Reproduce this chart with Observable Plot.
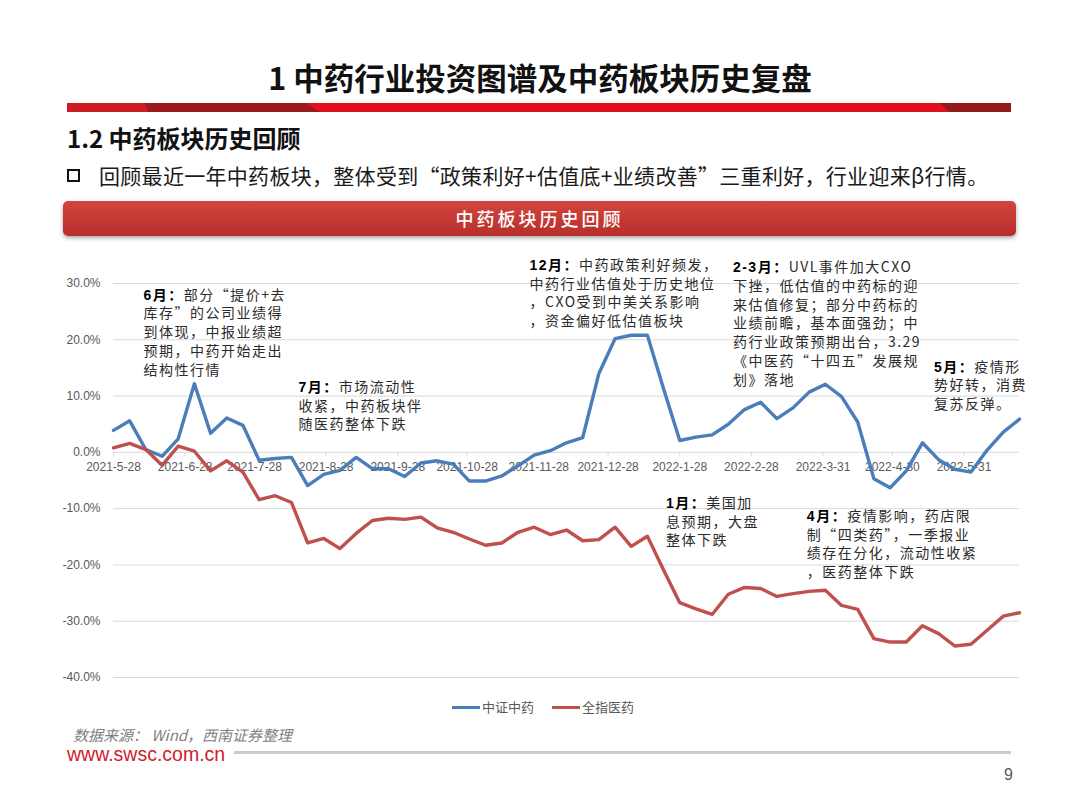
<!DOCTYPE html>
<html><head><meta charset="utf-8">
<script src="https://cdn.jsdelivr.net/npm/d3@7"></script>
<script src="https://cdn.jsdelivr.net/npm/@observablehq/plot@0.6"></script>
<style>
html,body{margin:0;padding:0;background:#fff}
body{width:1080px;height:810px;position:relative;overflow:hidden;font-family:"Noto Sans CJK SC","Noto Sans",sans-serif}
.abs{position:absolute;white-space:nowrap}
</style></head><body>
<div class="abs" style="left:0;width:1080px;top:57px;text-align:center;font-size:30.5px;font-weight:700;color:#111;line-height:40px">1 中药行业投资图谱及中药板块历史复盘</div>
<svg class="abs" style="left:0;top:103px" width="1080" height="10">
  <rect x="67" y="0" width="944" height="9" fill="#e2101c"/>
  <rect x="67" y="0" width="80" height="9" fill="#cf1b24"/>
  <polygon points="145,0 306,0 320,9 148,9" fill="#9c1a1c"/>
  <polygon points="940,0 1011,0 1011,9 949,9" fill="#931a1a"/>
</svg>
<div class="abs" style="left:67px;top:122px;font-size:24px;font-weight:700;color:#111;line-height:32px">1.2 中药板块历史回顾</div>
<div class="abs" style="left:67px;top:162px;line-height:26px;font-size:21px;letter-spacing:0.3px;color:#1a1a1a;display:flex;align-items:center">
  <span style="display:inline-block;width:9px;height:9px;border:2.5px solid #111;margin-right:19px"></span>
  <span>回顾最近一年中药板块，整体受到“政策利好+估值底+业绩改善”三重利好，行业迎来β行情。</span>
</div>
<div class="abs" style="left:63px;top:201px;width:953px;height:35px;border-radius:5px;background:linear-gradient(#d3453f,#b72e2b);box-shadow:0 2px 4px rgba(0,0,0,0.35);color:#fff;text-align:center;line-height:35px;font-size:18px;letter-spacing:3px;font-weight:500">中药板块历史回顾</div>
<div id="chart" class="abs" style="left:0;top:270px"></div>
<div class="abs" style="top:698px;left:452px;font-size:13px;color:#595959;display:flex;align-items:center;line-height:18px">
  <span style="display:inline-block;width:28px;height:3px;background:#4a7ebb"></span><span style="margin-left:2px">中证中药</span>
  <span style="display:inline-block;width:28px;height:3px;background:#c0504d;margin-left:18px"></span><span style="margin-left:2px">全指医药</span>
</div>
<div class="abs" style="left:73px;top:726px;font-size:15px;font-style:italic;color:#7f7f7f;line-height:18px">数据来源： Wind，西南证券整理</div>
<div class="abs" style="left:67px;top:744px;font-size:19.5px;color:#d0202e;line-height:20px;font-family:'Liberation Sans',Arial,sans-serif">www.swsc.com.cn</div>
<div class="abs" style="left:234px;top:751px;width:777px;height:3px;background:#cbcbcb"></div>
<div class="abs" style="left:990px;width:23px;text-align:right;top:764px;font-size:16px;color:#595959;line-height:22px;font-family:'Liberation Sans',Arial,sans-serif">9</div>
<script>
// ---- data ----
const dates = ["2021-05-28","2021-06-04","2021-06-11","2021-06-18","2021-06-25","2021-07-02","2021-07-09","2021-07-16","2021-07-23","2021-07-30",
"2021-08-06","2021-08-13","2021-08-20","2021-08-27","2021-09-03","2021-09-10","2021-09-17","2021-09-24","2021-10-01","2021-10-08",
"2021-10-15","2021-10-22","2021-10-29","2021-11-05","2021-11-12","2021-11-19","2021-11-26","2021-12-03","2021-12-10","2021-12-17",
"2021-12-24","2021-12-31","2022-01-07","2022-01-14","2022-01-21","2022-01-28","2022-02-04","2022-02-11","2022-02-18","2022-02-25",
"2022-03-04","2022-03-11","2022-03-18","2022-03-25","2022-04-01","2022-04-08","2022-04-15","2022-04-22","2022-04-29","2022-05-06",
"2022-05-13","2022-05-20","2022-05-27","2022-06-03","2022-06-10","2022-06-17","2022-06-24"];
const zzzy = [3.9,5.6,0.5,-0.7,2.4,12.2,3.4,6.1,4.8,-1.4,
-1.1,-0.9,-5.9,-3.9,-3.2,-0.9,-2.9,-2.9,-4.3,-1.9,
-1.5,-2.1,-5.1,-5.1,-4.2,-2.4,-0.5,0.3,1.7,2.6,
14.0,20.2,20.8,20.8,11.3,2.1,2.7,3.1,5.0,7.6,
8.9,6.0,7.9,10.7,12.1,9.9,5.4,-4.7,-6.3,-3.3,
1.7,-1.3,-3.0,-3.5,0.4,3.6,5.9];
const qzyy = [0.8,1.6,0.5,-2.3,1.1,0.2,-3.3,-1.5,-3.5,-8.4,
-7.7,-8.9,-16.1,-15.3,-17.1,-14.4,-12.1,-11.7,-11.9,-11.5,
-13.4,-14.2,-15.4,-16.5,-16.1,-14.2,-13.3,-14.6,-13.8,-15.7,
-15.5,-13.3,-16.7,-14.9,-20.9,-26.7,-27.8,-28.8,-25.2,-24.0,
-24.2,-25.6,-25.1,-24.7,-24.5,-27.2,-27.9,-33.1,-33.7,-33.7,
-30.8,-32.2,-34.4,-34.1,-31.6,-29.1,-28.5];
const seriesNames = ["中证中药","全指医药"];
const seriesColors = ["#4a7ebb","#c0504d"];
const xTickDates = ["2021-05-28","2021-06-28","2021-07-28","2021-08-28","2021-09-28","2021-10-28","2021-11-28","2021-12-28","2022-01-28","2022-02-28","2022-03-31","2022-04-30","2022-05-31"];
const xTickLabels = ["2021-5-28","2021-6-28","2021-7-28","2021-8-28","2021-9-28","2021-10-28","2021-11-28","2021-12-28","2022-1-28","2022-2-28","2022-3-31","2022-4-30","2022-5-31"];
const yTicks = [30,20,10,0,-10,-20,-30,-40];
const annoHeads = ["6月：","7月：","12月：","2-3月：","5月：","1月：","4月："];
const annoTexts = [
  "部分“提价+去\n库存”的公司业绩得\n到体现，中报业绩超\n预期，中药开始走出\n结构性行情",
  "市场流动性\n收紧，中药板块伴\n随医药整体下跌",
  "中药政策利好频发，\n中药行业估值处于历史地位\n，CXO受到中美关系影响\n，资金偏好低估值板块",
  "UVL事件加大CXO\n下挫，低估值的中药标的迎\n来估值修复；部分中药标的\n业绩前瞻，基本面强劲；中\n药行业政策预期出台，3.29\n《中医药“十四五”发展规\n划》落地",
  "疫情形\n势好转，消费\n复苏反弹。",
  "美国加\n息预期，大盘\n整体下跌",
  "疫情影响，药店限\n制“四类药”，一季报业\n绩存在分化，流动性收紧\n，医药整体下跌"
];
const annoDates = ["2021-06-10","2021-08-16","2021-11-24","2022-02-20","2022-05-18","2022-01-22","2022-03-24"];
const annoValues = [29.5,13.1,34.8,34.4,16.7,-7.5,-9.8];

// ---- build ----
const parse = d3.utcParse("%Y-%m-%d");
const rows = [];
dates.forEach((d,i)=>{
  rows.push({date:parse(d), value:zzzy[i], s:seriesNames[0]});
  rows.push({date:parse(d), value:qzyy[i], s:seriesNames[1]});
});
const ticks = xTickDates.map((d,i)=>({date:parse(d), label:xTickLabels[i]}));
const annos = annoHeads.map((h,i)=>({date:parse(annoDates[i]), value:annoValues[i], text:h+annoTexts[i], head:h}));

const chart = Plot.plot({
  width:1080, height:420,
  marginLeft:113, marginRight:61, marginTop:13, marginBottom:13,
  style:{fontFamily:'"Liberation Sans", Arial, sans-serif', fontSize:"12px", color:"#595959", background:"transparent", overflow:"visible"},
  x:{type:"utc", domain:[parse(dates[0]), parse(dates[dates.length-1])], axis:null},
  y:{domain:[-40,30], ticks:yTicks, tickSize:0, tickPadding:13, tickFormat:d=>d.toFixed(1)+"%", label:null},
  color:{domain:seriesNames, range:seriesColors},
  marks:[
    Plot.ruleY(yTicks, {stroke:"#d9d9d9", strokeWidth:1}),
    Plot.ruleX(ticks, {x:"date", y1:0, y2:-0.75, stroke:"#d9d9d9"}),
    Plot.text(ticks, {x:"date", y:()=>0, text:"label", dy:15, fill:"#595959", fontSize:12}),
    Plot.line(rows, {x:"date", y:"value", z:"s", stroke:"s", strokeWidth:3.4, strokeLinejoin:"round", curve:"linear"}),
    Plot.text(annos, {x:"date", y:"value", text:"text", textAnchor:"start", lineAnchor:"top", lineHeight:1.34, fontSize:14, fontFamily:'"Noto Sans CJK SC", sans-serif', fill:"#2b2b2b"})
  ]
});
document.getElementById("chart").appendChild(chart);

const NS = "http://www.w3.org/2000/svg";
chart.querySelectorAll("text").forEach(t=>{
  const first = t.querySelector("tspan");
  if(!first) return;
  const h = annoHeads.find(h=>first.textContent.startsWith(h));
  if(!h) return;
  t.style.letterSpacing = "1.5px";
  const rest = first.textContent.slice(h.length);
  first.textContent = "";
  const b = document.createElementNS(NS,"tspan");
  b.setAttribute("font-weight","bold"); b.setAttribute("fill","#000");
  b.setAttribute("font-family",'"Liberation Sans", "Noto Sans CJK SC", sans-serif');
  b.textContent = h;
  const r = document.createElementNS(NS,"tspan");
  r.textContent = rest;
  first.appendChild(b); first.appendChild(r);
});
</script>
</body></html>
